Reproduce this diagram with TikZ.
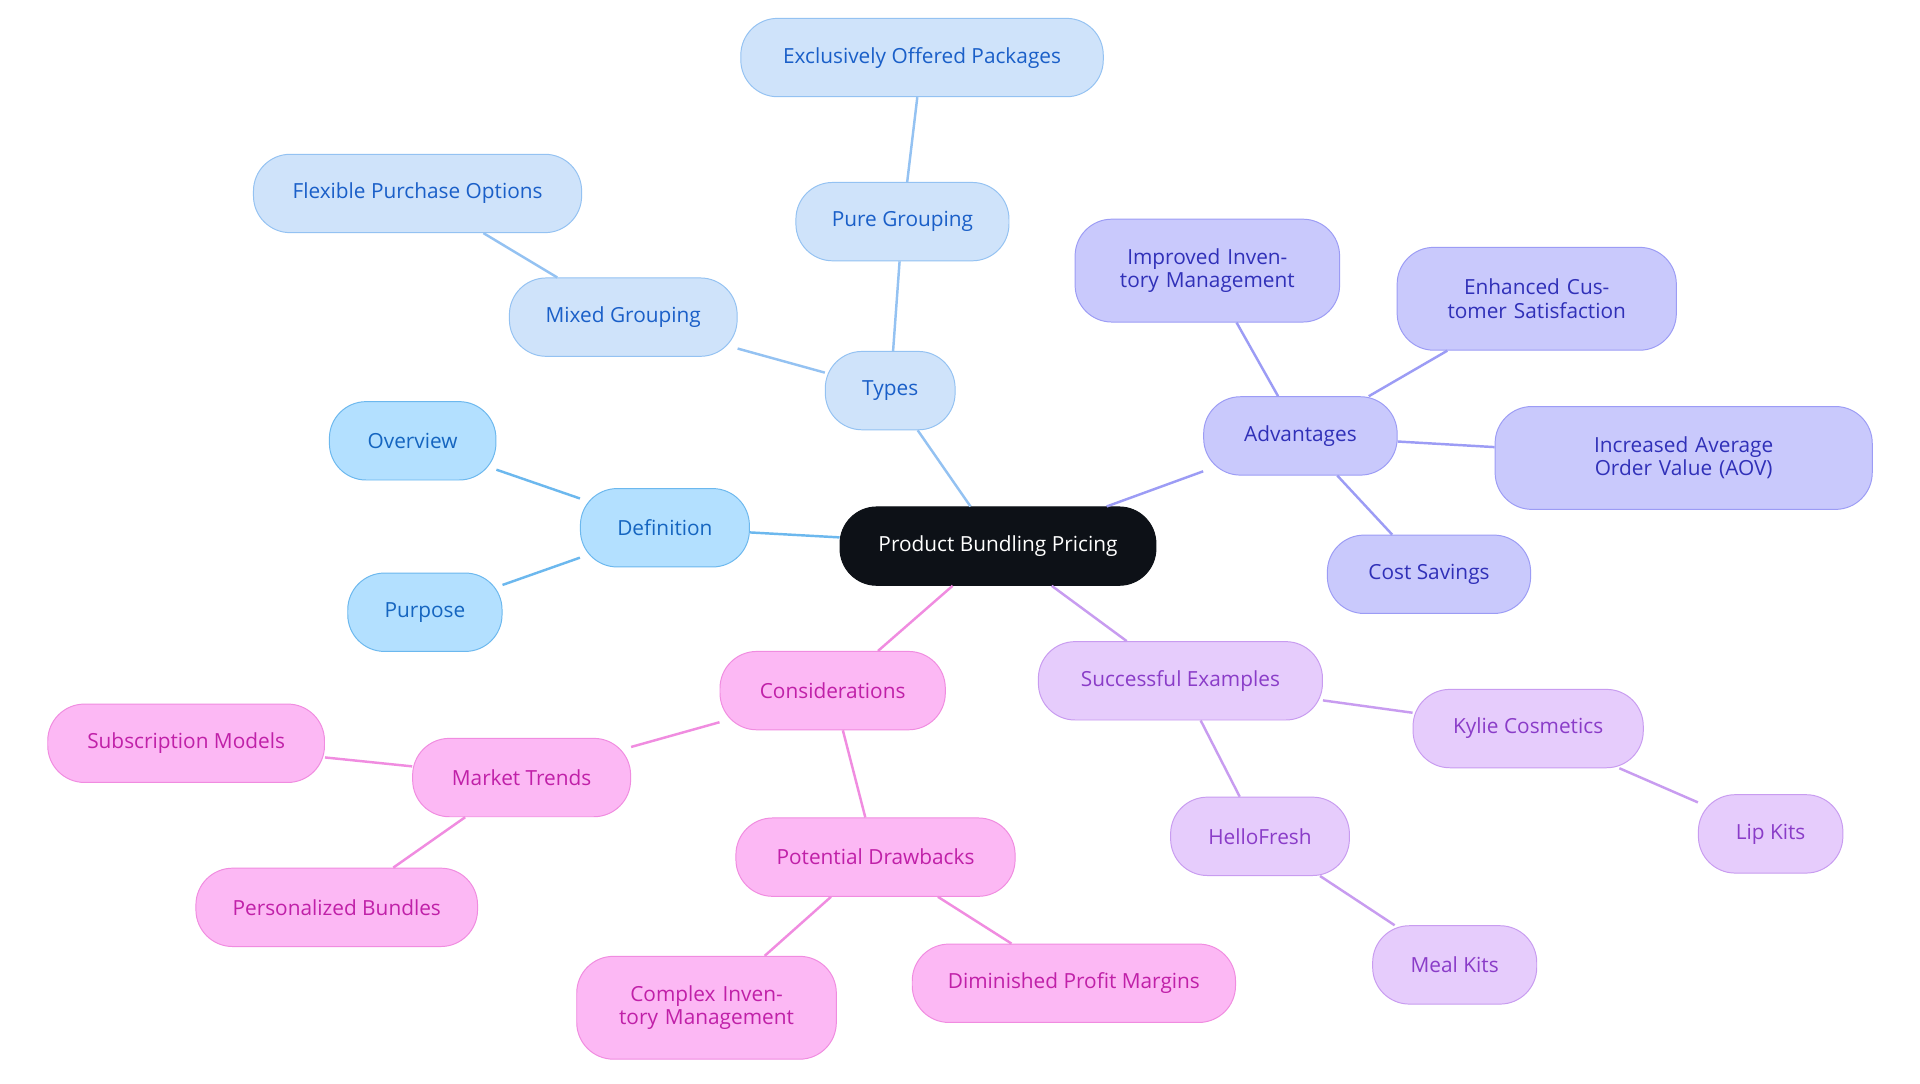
\documentclass[tikz,border=0pt]{standalone}
\usepackage{fontspec}
\setmainfont{Open Sans}
\definecolor{cF}{HTML}{0D1117}
\definecolor{bF}{HTML}{B3E0FF}\definecolor{bD}{HTML}{6CB8EE}\definecolor{bT}{HTML}{1565C0}
\definecolor{tF}{HTML}{CFE3FA}\definecolor{tD}{HTML}{94C2F2}\definecolor{tT}{HTML}{1A5FC8}
\definecolor{aF}{HTML}{C9C9FC}\definecolor{aD}{HTML}{9C9CF5}\definecolor{aT}{HTML}{3030B8}
\definecolor{sF}{HTML}{E6CCFC}\definecolor{sD}{HTML}{C89CF0}\definecolor{sT}{HTML}{8A3CC8}
\definecolor{pF}{HTML}{FCB8F4}\definecolor{pD}{HTML}{F08CE0}\definecolor{pT}{HTML}{C020A8}
\tikzset{
 box/.style={rounded corners=30pt,minimum height=64pt,inner sep=0pt,align=center,font=\fontsize{17}{19}\selectfont,line width=0.8pt},
 bb/.style={box,fill=bF,draw=bD,text=bT},
 tb/.style={box,fill=tF,draw=tD,text=tT},
 ab/.style={box,fill=aF,draw=aD,text=aT},
 sb/.style={box,fill=sF,draw=sD,text=sT},
 pb/.style={box,fill=pF,draw=pD,text=pT},
 two/.style={minimum height=84pt,text width=#1pt},
 e/.style={line width=2pt}
}
\begin{document}
\begin{tikzpicture}[x=1pt,y=-1pt]
\useasboundingbox[fill=white] (0,0) rectangle (1568,885);
\node[box,fill=cF,draw=cF,text=white,minimum width=258pt] (c) at (815,446) {Product Bundling Pricing};
\node[bb,minimum width=138pt] (def) at (543,431) {Definition};
\node[bb,minimum width=136pt] (ov) at (337,360) {Overview};
\node[bb,minimum width=126pt] (pu) at (347,500) {Purpose};
\node[tb,minimum width=106pt] (ty) at (727,319) {Types};
\node[tb,minimum width=186pt] (mg) at (509,259) {Mixed Grouping};
\node[tb,minimum width=268pt] (fp) at (341,158) {Flexible Purchase Options};
\node[tb,minimum width=174pt] (pg) at (737,181) {Pure Grouping};
\node[tb,minimum width=296pt] (ex) at (753,47) {Exclusively Offered Packages};
\node[ab,minimum width=158pt] (ad) at (1062,356) {Advantages};
\node[ab,minimum width=216pt,two=180] (ii) at (986,221) {Improved Inventory Management};
\node[ab,minimum width=228pt,two=190] (ec) at (1255,244) {Enhanced Customer Satisfaction};
\node[ab,minimum width=308pt,two=280] (ia) at (1375,374) {Increased Average Order Value (AOV)};
\node[ab,minimum width=166pt] (cs) at (1167,469) {Cost Savings};
\node[sb,minimum width=232pt] (se) at (964,556) {Successful Examples};
\node[sb,minimum width=188pt] (ky) at (1248,595) {Kylie Cosmetics};
\node[sb,minimum width=118pt] (lk) at (1446,681) {Lip Kits};
\node[sb,minimum width=146pt] (hf) at (1029,683) {HelloFresh};
\node[sb,minimum width=134pt] (mk) at (1188,788) {Meal Kits};
\node[pb,minimum width=184pt] (co) at (680,564) {Considerations};
\node[pb,minimum width=178pt] (mt) at (426,635) {Market Trends};
\node[pb,minimum width=226pt] (sm) at (152,607) {Subscription Models};
\node[pb,minimum width=230pt] (pz) at (275,741) {Personalized Bundles};
\node[pb,minimum width=228pt] (pd) at (715,700) {Potential Drawbacks};
\node[pb,minimum width=212pt,two=180] (ci) at (577,823) {Complex Inventory Management};
\node[pb,minimum width=264pt] (dm) at (877,803) {Diminished Profit Margins};
\draw[e,bD] (c)--(def) (def)--(ov) (def)--(pu);
\draw[e,tD] (c)--(ty) (ty)--(mg) (mg)--(fp) (ty)--(pg) (pg)--(ex);
\draw[e,aD] (c)--(ad) (ad)--(ii) (ad)--(ec) (ad)--(ia) (ad)--(cs);
\draw[e,sD] (c)--(se) (se)--(ky) (ky)--(lk) (se)--(hf) (hf)--(mk);
\draw[e,pD] (c)--(co) (co)--(mt) (mt)--(sm) (mt)--(pz) (co)--(pd) (pd)--(ci) (pd)--(dm);
\end{tikzpicture}
\end{document}
